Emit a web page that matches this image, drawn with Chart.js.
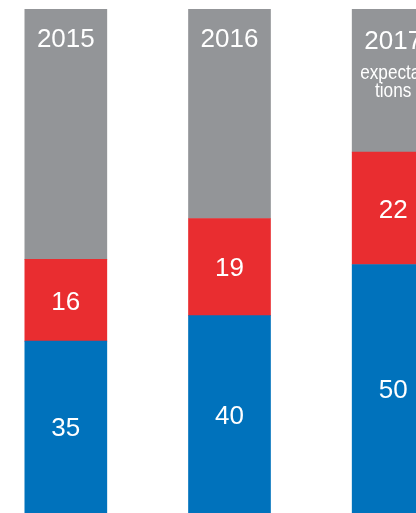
<!DOCTYPE html>
<html>
<head>
<meta charset="utf-8">
<script src="https://cdn.jsdelivr.net/npm/chart.js@4"></script>
<style>
  html, body { margin: 0; padding: 0; background: #ffffff; overflow: hidden; width: 416px; height: 513px; }
  #wrap { position: absolute; left: -16px; top: 0; width: 491px; height: 513px; }
</style>
</head>
<body>
<div id="wrap"><canvas id="c" width="491" height="513"></canvas></div>
<script>
const categories = ['2015', '2016', '2017'];
const blueValues = [35, 40, 50];
const redValues = [16, 19, 22];
const grayValues = [49, 41, 28];
const subLabels = [[], [], ['expecta-', 'tions']];

const FONT = '"Liberation Sans", Arial, Helvetica, sans-serif';

const labelPlugin = {
  id: 'segLabels',
  afterDatasetsDraw(chart) {
    const ctx = chart.ctx;
    const area = chart.chartArea;
    ctx.save();
    ctx.fillStyle = '#ffffff';
    ctx.textAlign = 'center';
    ctx.textBaseline = 'alphabetic';
    chart.data.datasets.forEach((ds, di) => {
      const meta = chart.getDatasetMeta(di);
      meta.data.forEach((el, i) => {
        const top = Math.max(Math.min(el.y, el.base), area.top);
        const bottom = Math.min(Math.max(el.y, el.base), area.bottom);
        ctx.font = '26px ' + FONT;
        if (ds.isRemainder) {
          const hasSub = subLabels[i] && subLabels[i].length > 0;
          const yBase = top + (hasSub ? 39.5 : 37.5);
          ctx.fillText(categories[i], el.x, yBase);
          if (hasSub) {
            ctx.font = '20px ' + FONT;
            subLabels[i].forEach((line, li) => {
              ctx.save();
              ctx.translate(el.x, top + 69.5 + li * 18.5);
              ctx.scale(0.86, 1);
              ctx.fillText(line, 0, 0);
              ctx.restore();
            });
          }
        } else {
          const cy = (top + bottom) / 2;
          ctx.fillText(String(ds.data[i]), el.x, cy + 9.3);
        }
      });
    });
    ctx.restore();
  }
};

new Chart(document.getElementById('c'), {
  type: 'bar',
  data: {
    labels: categories,
    datasets: [
      { data: blueValues, backgroundColor: '#0072BC', barThickness: 82 },
      { data: redValues, backgroundColor: '#E92D30', barThickness: 82 },
      { data: grayValues, backgroundColor: '#939598', barThickness: 82, isRemainder: true }
    ]
  },
  options: {
    responsive: false,
    animation: false,
    events: [],
    layout: { padding: { top: 9, left: 0, right: 0, bottom: 0 } },
    plugins: { legend: { display: false }, tooltip: { enabled: false } },
    scales: {
      x: { stacked: true, display: false, grid: { display: false } },
      y: { stacked: true, display: false, min: 1.37, max: 100, grid: { display: false } }
    }
  },
  plugins: [labelPlugin]
});
</script>
</body>
</html>
